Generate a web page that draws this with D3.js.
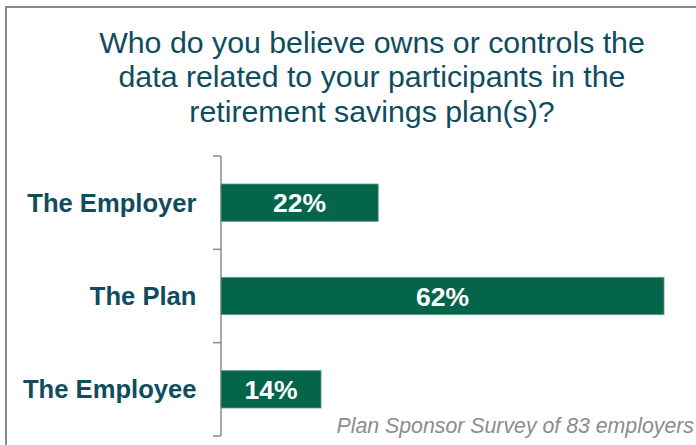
<!DOCTYPE html>
<html><head><meta charset="utf-8">
<script src="https://cdn.jsdelivr.net/npm/d3@7"></script>
<style>body{margin:0;background:#fff}svg{display:block}text{font-family:"Liberation Sans",Arial,sans-serif}</style>
</head><body>
<script>
const categories = ["The Employer", "The Plan", "The Employee"];
const values = [22, 62, 14];
const valueLabels = ["22%", "62%", "14%"];
const titleLines = ["Who do you believe owns or controls the", "data related to your participants in the", "retirement savings plan(s)?"];
const footnote = "Plan Sponsor Survey of 83 employers";

const W = 696, H = 445;
const svg = d3.select("body").append("svg").attr("width", W).attr("height", H);

// frame
svg.append("path").attr("d", `M6,${H} V7 H${W}`).attr("fill","none").attr("stroke","#8a8a8a").attr("stroke-width",2);

// title
svg.append("g").selectAll("text").data(titleLines).join("text")
  .attr("x", 372).attr("y", (d,i)=>52.5 + i*34.5)
  .attr("text-anchor","middle").attr("fill","#0f4c5e")
  .style("font-size","30.3px").text(d=>d);

const x = d3.scaleLinear().domain([0, 62]).range([221, 664]);
const y = d3.scaleBand().domain(categories).range([156, 436]).paddingInner(0.6).paddingOuter(0.3);

// axis line with ticks at band boundaries
const step = y.step();
const bounds = d3.range(categories.length + 1).map(i => y.range()[0] + i*step);
const ax = svg.append("g");
ax.append("line").attr("x1",221).attr("x2",221).attr("y1",bounds[0]).attr("y2",bounds[bounds.length-1])
  .attr("stroke","#8a8a8a").attr("stroke-width",1.5);
ax.selectAll("line.t").data(bounds).join("line").attr("class","t")
  .attr("x1",213).attr("x2",221).attr("y1",d=>d).attr("y2",d=>d)
  .attr("stroke","#8a8a8a").attr("stroke-width",1.5);

// bars
svg.append("g").selectAll("rect").data(values).join("rect")
  .attr("x", x(0)).attr("y", (d,i)=>y(categories[i]))
  .attr("width", d=>x(d)-x(0)).attr("height", y.bandwidth())
  .attr("fill","#05654a").attr("stroke","#5e9e86").attr("stroke-width",0.8);

// value labels
svg.append("g").selectAll("text").data(values).join("text")
  .attr("x", d=>(x(0)+x(d))/2).attr("y",(d,i)=>y(categories[i]) + y.bandwidth()/2 + 9.5)
  .attr("text-anchor","middle").attr("fill","#fff").style("font-weight","bold").style("font-size","26.5px")
  .text((d,i)=>valueLabels[i]);

// category labels
svg.append("g").selectAll("text").data(categories).join("text")
  .attr("x",196.5).attr("y",d=>y(d)+y.bandwidth()/2+9)
  .attr("text-anchor","end").attr("fill","#0f4c5e").style("font-weight","bold").style("font-size","25.6px")
  .text(d=>d);

// footnote
svg.append("text").attr("x",694).attr("y",433).attr("text-anchor","end")
  .attr("fill","#8c8c8c").style("font-style","italic").style("font-size","21.3px").text(footnote);
</script>
</body></html>
